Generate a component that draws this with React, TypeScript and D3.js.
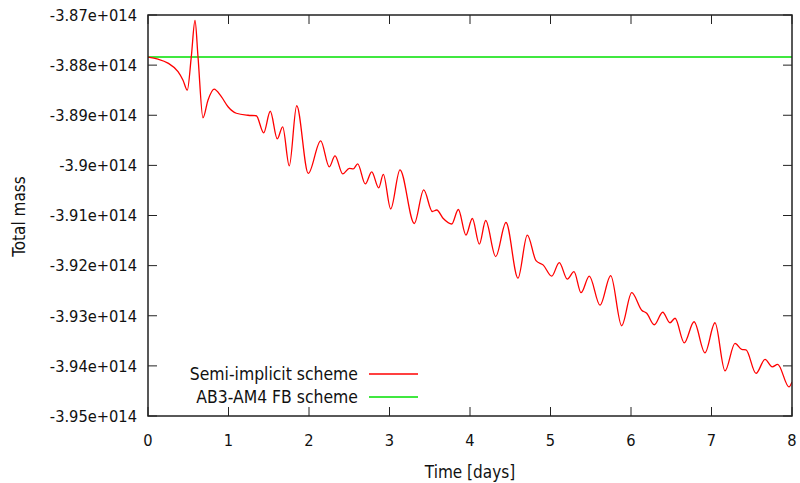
import React from "react";
import * as d3 from "d3";

// Time in days
const days = [0, 0.124, 0.248, 0.373, 0.435, 0.488, 0.538, 0.584, 0.621, 0.683, 0.745, 0.82, 0.911, 0.994, 1.097, 1.242, 1.345, 1.437, 1.519, 1.606, 1.673, 1.755, 1.847, 1.991, 2.145, 2.252, 2.323, 2.419, 2.501, 2.55, 2.605, 2.699, 2.779, 2.866, 2.923, 3.015, 3.13, 3.308, 3.425, 3.532, 3.586, 3.668, 3.773, 3.855, 3.95, 4.029, 4.116, 4.195, 4.319, 4.447, 4.596, 4.712, 4.82, 4.911, 5.015, 5.109, 5.209, 5.292, 5.379, 5.482, 5.615, 5.748, 5.884, 6.009, 6.133, 6.195, 6.289, 6.394, 6.484, 6.547, 6.662, 6.783, 6.919, 7.043, 7.168, 7.292, 7.375, 7.429, 7.553, 7.665, 7.755, 7.822, 7.963, 8.0];
// Total mass (units of 1e14), semi-implicit scheme
const semiImplicit = [-3.8784, -3.8788, -3.8796, -3.8813, -3.883, -3.885, -3.8783, -3.8711, -3.8783, -3.8905, -3.887, -3.8848, -3.8863, -3.8883, -3.8896, -3.89, -3.8901, -3.8935, -3.8892, -3.8947, -3.8923, -3.9001, -3.8881, -3.9016, -3.8951, -3.9003, -3.8981, -3.9017, -3.9006, -3.9007, -3.8997, -3.9037, -3.9013, -3.9045, -3.9018, -3.9087, -3.9009, -3.9116, -3.9049, -3.9092, -3.9089, -3.9106, -3.9117, -3.9088, -3.9139, -3.9106, -3.9157, -3.911, -3.9182, -3.9114, -3.9225, -3.9139, -3.919, -3.9199, -3.9221, -3.9194, -3.9227, -3.9212, -3.9254, -3.9221, -3.9279, -3.922, -3.932, -3.9254, -3.9289, -3.9295, -3.9318, -3.9293, -3.9314, -3.9305, -3.9354, -3.9312, -3.9374, -3.9314, -3.941, -3.9355, -3.9367, -3.9368, -3.9415, -3.9387, -3.9402, -3.9397, -3.9442, -3.9432];
// AB3-AM4 FB scheme (constant)
const fbDays = [0, 8];
const fbScheme = [-3.8784, -3.8784];

const xTicks = [0, 1, 2, 3, 4, 5, 6, 7, 8];
const yTicks = [-3.87, -3.88, -3.89, -3.9, -3.91, -3.92, -3.93, -3.94, -3.95];
const seriesNames = ["Semi-implicit scheme", "AB3-AM4 FB scheme"];
const seriesColors = ["#ff0000", "#00e000"];

const W = 800, H = 483;
const M = { left: 148, top: 15, right: 8, bottom: 67 };
const FONT = "'DejaVu Sans Condensed', 'DejaVu Sans', sans-serif";

export default function App() {
  const x = d3.scaleLinear().domain([0, 8]).range([M.left, W - M.right]);
  const y = d3.scaleLinear().domain([-3.95, -3.87]).range([H - M.bottom, M.top]);
  const line = d3.line<[number, number]>().x(d => x(d[0])).y(d => y(d[1])).curve(d3.curveMonotoneX);
  const semiPts = days.map((d, i) => [d, semiImplicit[i]] as [number, number]);
  const fbPts = fbDays.map((d, i) => [d, fbScheme[i]] as [number, number]);
  const x0 = x(0), x1 = x(8), y0 = y(-3.95), y1 = y(-3.87);
  const tl = 9;
  const axisColor = "#222";
  const fmt = (v: number) => `${+v.toFixed(2)}e+014`;
  return (
    <svg width={W} height={H} style={{ position: "absolute", left: 0, top: 0, background: "#fff" }} fontFamily={FONT} fontStretch="condensed">
      <defs>
        <clipPath id="clip"><rect x={x0} y={y1} width={x1 - x0} height={y0 - y1} /></clipPath>
      </defs>
      <g clipPath="url(#clip)">
        <path d={line(fbPts) || ""} fill="none" stroke={seriesColors[1]} strokeWidth={1.5} />
        <path d={line(semiPts) || ""} fill="none" stroke={seriesColors[0]} strokeWidth={1.3} />
      </g>
      {/* ticks */}
      {xTicks.map(t => (
        <g key={"xt" + t}>
          <line x1={x(t)} x2={x(t)} y1={y0} y2={y0 - tl} stroke={axisColor} strokeWidth={1} />
          <line x1={x(t)} x2={x(t)} y1={y1} y2={y1 + tl} stroke={axisColor} strokeWidth={1} />
          <text x={x(t)} y={446} textAnchor="middle" fontSize={16.3} fill="#111">{t}</text>
        </g>
      ))}
      {yTicks.map(t => (
        <g key={"yt" + t}>
          <line x1={x0} x2={x0 + tl} y1={y(t)} y2={y(t)} stroke={axisColor} strokeWidth={1} />
          <line x1={x1} x2={x1 - tl} y1={y(t)} y2={y(t)} stroke={axisColor} strokeWidth={1} />
          <text x={137} y={y(t)} dy="0.36em" textAnchor="end" fontSize={16.3} fill="#111">{fmt(t)}</text>
        </g>
      ))}
      <rect x={x0} y={y1} width={x1 - x0} height={y0 - y1} fill="none" stroke={axisColor} strokeWidth={1.5} />
      {/* axis labels */}
      <text x={470} y={478} textAnchor="middle" fontSize={17} fill="#111">Time [days]</text>
      <text transform={`translate(24.5,216.5) rotate(-90)`} textAnchor="middle" fontSize={17} fill="#111">Total mass</text>
      {/* legend */}
      {seriesNames.map((n, i) => (
        <g key={n}>
          <text x={358} y={374 + i * 23} dy="0.36em" textAnchor="end" fontSize={17.4} fill="#111">{n}</text>
          <line x1={369} x2={418} y1={374 + i * 23} y2={374 + i * 23} stroke={seriesColors[i]} strokeWidth={1.3} />
        </g>
      ))}
    </svg>
  );
}
